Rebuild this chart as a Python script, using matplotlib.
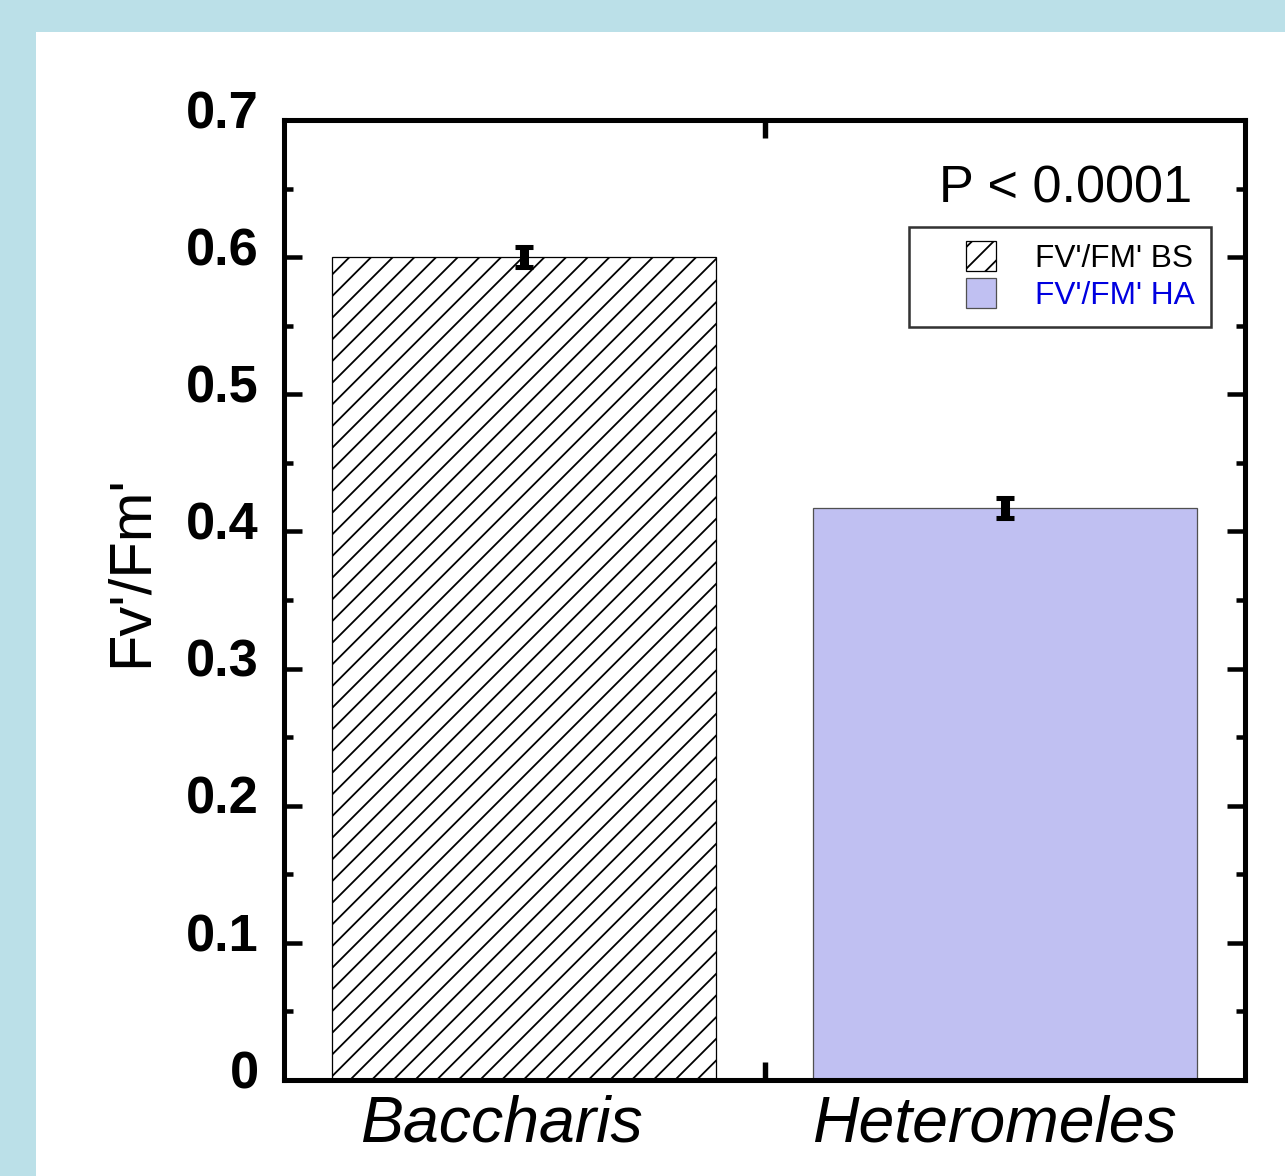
import matplotlib.pyplot as plt
import matplotlib.transforms as mtransforms
from matplotlib.patches import Rectangle, Patch
from matplotlib.legend_handler import HandlerPatch

# Data
species = ['Baccharis', 'Heteromeles']
fvfm = [0.600, 0.417]
fvfm_err = [0.0075, 0.0075]
legend_labels = ["FV'/FM' BS", "FV'/FM' HA"]
yticks = [0, 0.1, 0.2, 0.3, 0.4, 0.5, 0.6, 0.7]
ytick_labels = ['0', '0.1', '0.2', '0.3', '0.4', '0.5', '0.6', '0.7']

# Style
BG_COLOR = '#BBE0E8'
HA_COLOR = '#C0C0F2'
DPI = 130   # chosen so the '//' hatch spacing matches the reference

plt.rcParams['font.family'] = ['Liberation Sans', 'DejaVu Sans']
plt.rcParams['hatch.linewidth'] = 1.0

fig = plt.figure(figsize=(1285 / DPI, 1176 / DPI), dpi=DPI, facecolor=BG_COLOR)
# white panel over the blue border
fig.patches.append(Rectangle((36 / 1285, 0), 1, 1 - 32 / 1176, transform=fig.transFigure,
                             facecolor='white', edgecolor='none', zorder=-10))

ax = fig.add_axes([284 / 1285, 1 - 1080 / 1176, 961 / 1285, 960 / 1176])
ax.set_facecolor('none')
ax.set_zorder(5)

xpos = [1, 2]
bars = ax.bar(xpos, fvfm, width=0.8, color=['white', HA_COLOR],
              edgecolor=['black', '#505050'], linewidth=0.7, zorder=2)
bars[0].set_hatch('//')
ax.errorbar(xpos, fvfm, yerr=fvfm_err, fmt='none', ecolor='black',
            elinewidth=5, capsize=5, capthick=2.8, zorder=3)

ax.set_xlim(0.5, 2.5)
ax.set_ylim(0, 0.7)

# y axis ticks
ax.set_yticks(yticks)
ax.set_yticklabels(ytick_labels, fontsize=29, fontweight='bold')
ax.set_yticks([0.05, 0.15, 0.25, 0.35, 0.45, 0.55, 0.65], minor=True)
ax.tick_params(axis='y', which='major', direction='in', length=10, width=2.5,
               left=True, right=True, pad=14)
ax.tick_params(axis='y', which='minor', direction='in', length=5, width=2.5,
               left=True, right=True)
up = mtransforms.ScaledTranslation(0, 6 / 72, fig.dpi_scale_trans)
for lab in ax.get_yticklabels():
    lab.set_transform(lab.get_transform() + up)

# x axis: labels at categories, tick mark only between them
ax.set_xticks(xpos)
ax.set_xticklabels(species, fontsize=35.7, fontstyle='italic')
ax.set_xticks([1.5], minor=True)
ax.tick_params(axis='x', which='major', length=0, pad=8)
ax.tick_params(axis='x', which='minor', direction='in', length=10, width=3,
               bottom=True, top=True)
for lab, dx in zip(ax.get_xticklabels(), [-23, -10]):
    shift = mtransforms.ScaledTranslation(dx / DPI, 0, fig.dpi_scale_trans)
    lab.set_transform(lab.get_transform() + shift)

for sp in ax.spines.values():
    sp.set_linewidth(2.8)

ax.set_ylabel("Fv'/Fm'", fontsize=33)
ax.yaxis.set_label_coords(-0.13, 0.53)

ax.text(0.945, 0.928, 'P < 0.0001', transform=ax.transAxes, fontsize=29,
        ha='right', va='center')


# legend swatch drawn as a square at the right end of a wider handle box
def square_right(legend, orig_handle, xdescent, ydescent, width, height, fontsize):
    s = 0.95 * fontsize
    return Rectangle((width - s - xdescent, -ydescent + (height - s) / 2), s, s)


handles = [Patch(facecolor='white', edgecolor='black', hatch='//', linewidth=0.7),
           Patch(facecolor=HA_COLOR, edgecolor='#505050', linewidth=0.7)]
leg = ax.legend(handles, legend_labels, loc='upper right',
                bbox_to_anchor=((1211 - 284) / 961, (1080 - 227) / 960),
                borderaxespad=0, fontsize=17.5, frameon=True, fancybox=False,
                handlelength=2.25, handleheight=0.95, handletextpad=1.25,
                labelspacing=0.16, borderpad=0.5,
                handler_map={Patch: HandlerPatch(patch_func=square_right)})
leg.get_frame().set_edgecolor('black')
leg.get_frame().set_linewidth(1.4)
leg.get_texts()[1].set_color('#0000E0')

fig.savefig('out.png', dpi=DPI, facecolor=BG_COLOR)
